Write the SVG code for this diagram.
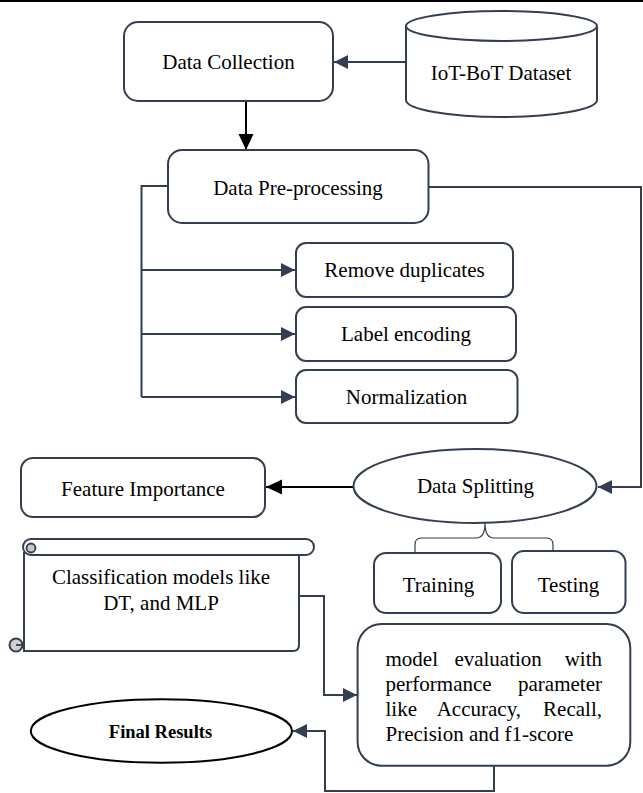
<svg xmlns="http://www.w3.org/2000/svg" width="643" height="793" viewBox="0 0 643 793">
<defs>
<style>
.box{fill:#fff;stroke:#333F50;stroke-width:2}
text{font-family:'Liberation Serif','Times New Roman',Times,'DejaVu Serif',serif;font-size:21px;fill:#000}
.t{text-anchor:middle}
.c{fill:none;stroke:#333F50;stroke-width:2}
.cb{fill:none;stroke:#000;stroke-width:2}
</style>
<marker id="as" markerUnits="userSpaceOnUse" markerWidth="16" markerHeight="16" refX="14" refY="7" orient="auto"><path d="M0,0 L14,7 L0,14 Z" fill="#333F50"/></marker>
<marker id="ab" markerUnits="userSpaceOnUse" markerWidth="18" markerHeight="16" refX="16" refY="7.5" orient="auto"><path d="M0,0 L16,7.5 L0,15 Z" fill="#000"/></marker>
</defs>
<rect width="643" height="793" fill="#fff"/>
<line x1="0" y1="1" x2="643" y2="1" stroke="#000" stroke-width="2"/>

<g id="connectors">
<path class="c" d="M406,62 H334" marker-end="url(#as)"/>
<path class="cb" d="M246,101 V150" marker-end="url(#ab)"/>
<path class="c" d="M168,186 H141.5 V397" stroke-width="2.5"/>
<path class="c" d="M141.5,270 H295" marker-end="url(#as)"/>
<path class="c" d="M141.5,334 H295" marker-end="url(#as)"/>
<path class="c" d="M141.5,397 H295" marker-end="url(#as)"/>
<path class="c" d="M428.5,187 H641 V487 H598" marker-end="url(#as)"/>
<path class="cb" d="M353.5,487 H266" marker-end="url(#ab)"/>
<path fill="none" stroke="#333F50" stroke-width="1.2" d="M485,523 C485,533 482,538 476,538 H421 C417,538 415,541 415,545 V553 M485,523 C485,533 488,538 494,538 H547 C551,538 553,541 553,545 V552"/>
<path class="c" d="M299,596 H324 V695 H357" marker-end="url(#as)"/>
<path class="c" d="M494,766 V791 H325 V731 H293" marker-end="url(#as)"/>
</g>

<g id="data-collection">
<rect class="box" x="124" y="22" width="209" height="79" rx="14"/>
<text class="t" x="228.5" y="69" font-family="Liberation Serif, serif">Data Collection</text>
</g>

<g id="iot-bot-dataset">
<path class="box" d="M406,26 V100 A95.5,17 0 0 0 597,100 V26"/>
<ellipse class="box" cx="501.5" cy="26" rx="95.5" ry="15"/>
<text class="t" x="501" y="80">IoT-BoT Dataset</text>
</g>

<g id="data-preprocessing">
<rect class="box" x="168" y="150" width="260.5" height="73" rx="14"/>
<text class="t" x="298" y="195">Data Pre-processing</text>
</g>

<g id="remove-duplicates">
<rect class="box" x="296" y="243" width="217" height="54" rx="10"/>
<text class="t" x="404.5" y="277">Remove duplicates</text>
</g>

<g id="label-encoding">
<rect class="box" x="296" y="307" width="220" height="54" rx="10"/>
<text class="t" x="406" y="341">Label encoding</text>
</g>

<g id="normalization">
<rect class="box" x="296" y="370" width="221.5" height="53" rx="10"/>
<text class="t" x="406.5" y="404">Normalization</text>
</g>

<g id="feature-importance">
<rect class="box" x="21" y="458" width="244" height="59" rx="12"/>
<text class="t" x="143" y="496">Feature Importance</text>
</g>

<g id="data-splitting">
<ellipse class="box" cx="475" cy="486" rx="121.5" ry="37"/>
<text class="t" x="475.5" y="493">Data Splitting</text>
</g>

<g id="training">
<rect class="box" x="374" y="553" width="127" height="60" rx="12"/>
<text class="t" x="438.5" y="592">Training</text>
</g>

<g id="testing">
<rect class="box" x="512" y="551" width="113.5" height="62" rx="12"/>
<text class="t" x="568.5" y="592">Testing</text>
</g>

<g id="classification-models">
<path class="box" d="M24,552 V651 H293 Q299,651 299,645 V555"/>
<path class="box" d="M31,539 H306 A8,8 0 0 1 306,555 H31 A8,8 0 0 1 31,539 Z"/>
<circle cx="31" cy="548" r="4.5" fill="#c8c8c8" stroke="#333F50" stroke-width="1.8"/>
<circle cx="16" cy="645" r="6.5" fill="#d0d0d0" stroke="#333F50" stroke-width="2"/>
<path d="M16,645 H24" stroke="#333F50" stroke-width="1.8" fill="none"/>
<text class="t" x="161" y="584">Classification models like</text>
<text class="t" x="161" y="610">DT, and MLP</text>
</g>

<g id="model-evaluation">
<rect class="box" x="357.6" y="624" width="272.7" height="141.7" rx="24"/>
<text x="385.5" y="666">model</text>
<text x="454.4" y="666">evaluation</text>
<text x="602" y="666" text-anchor="end">with</text>
<text x="385.5" y="691">performance</text>
<text x="602" y="691" text-anchor="end">parameter</text>
<text x="385.5" y="716">like</text>
<text x="436.7" y="716">Accuracy,</text>
<text x="602" y="716" text-anchor="end">Recall,</text>
<text x="385.5" y="741">Precision and f1-score</text>
</g>

<g id="final-results">
<ellipse cx="161.4" cy="731" rx="130.6" ry="31.7" fill="#fff" stroke="#000" stroke-width="2"/>
<text class="t" x="160.5" y="738" font-weight="bold" style="font-size:18.5px">Final Results</text>
</g>
</svg>
